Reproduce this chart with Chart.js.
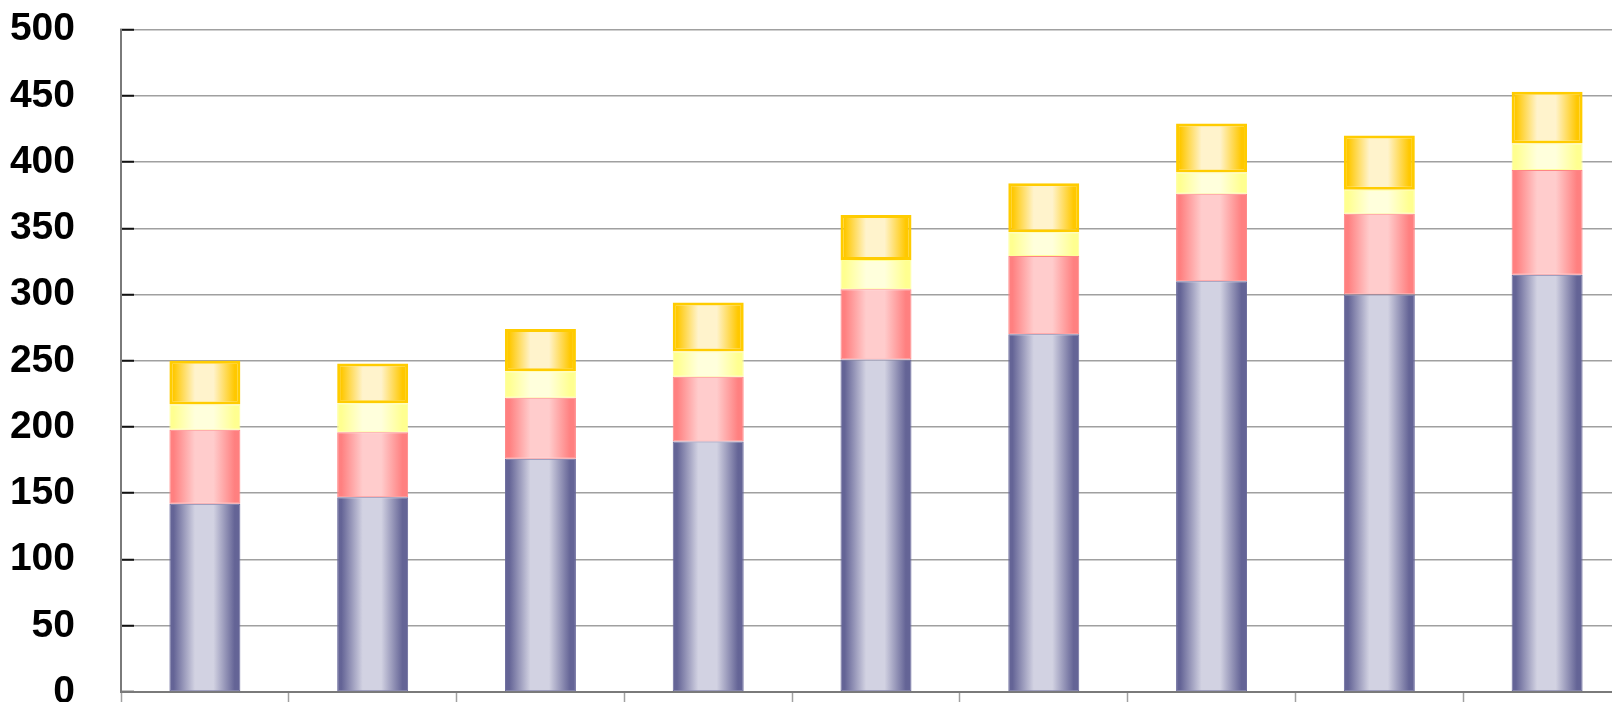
<!DOCTYPE html>
<html>
<head>
<meta charset="utf-8">
<script src="https://cdn.jsdelivr.net/npm/chart.js@4/dist/chart.umd.min.js"></script>
<style>
    body { margin: 0; overflow: hidden; background: #fff; }
    #wrap { position: absolute; left: 0; top: 0; width: 1631px; height: 720px; }
</style>
</head>
<body>
<div id="wrap"><canvas id="stack-chart"></canvas></div>
<script>
// data
const categories = ['1', '2', '3', '4', '5', '6', '7', '8', '9'];
const seriesBlue = [142, 147, 176, 189, 251, 270, 310, 300, 315];
const seriesRed = [56, 49, 46, 49, 53, 59, 66, 61, 79];
const seriesYellow = [19, 22, 20, 19, 22, 18, 16, 18, 20];
const seriesGold = [33, 30, 32, 37, 34, 37, 37, 41, 39];
const yTicks = [0, 50, 100, 150, 200, 250, 300, 350, 400, 450, 500];

const barShare = 0.423;

// horizontal "cylinder" shading for each bar
function cylinder(dark, light) {
    return (context) => {
        const chart = context.chart;
        const xScale = chart.scales.x;
        if (!chart.chartArea || !xScale || context.dataIndex === undefined) {
            return dark;
        }
        const cx = xScale.getPixelForValue(context.dataIndex);
        const half = xScale.width / categories.length * barShare / 2;
        const g = chart.ctx.createLinearGradient(cx - half, 0, cx + half, 0);
        g.addColorStop(0, dark);
        g.addColorStop(0.06, dark);
        g.addColorStop(0.36, light);
        g.addColorStop(0.62, light);
        g.addColorStop(0.92, dark);
        g.addColorStop(1, dark);
        return g;
    };
}

function makeDataset(label, data, dark, light, border, borderWidth) {
    return {
        label: label,
        data: data,
        backgroundColor: cylinder(dark, light),
        borderColor: border,
        borderWidth: borderWidth,
        borderSkipped: false,
        categoryPercentage: 1,
        barPercentage: barShare
    };
}

let ctx = document.getElementById('stack-chart').getContext('2d');

window.myChart = new Chart(ctx, {
    type: 'bar',
    data: {
        labels: categories,
        datasets: [
            makeDataset('Blue', seriesBlue, '#646496', '#d2d2e2', '#6a6a9c', 1),
            makeDataset('Red', seriesRed, '#ff8080', '#ffcccc', '#ff8585', 1),
            makeDataset('Yellow', seriesYellow, '#ffff90', '#ffffdc', '#ffff99', 1),
            makeDataset('Gold', seriesGold, '#ffc800', '#fff3cc', '#ffcc00', 3)
        ]
    },
    options: {
        responsive: true,
        maintainAspectRatio: false,
        animation: false,
        layout: {
            padding: {top: 29.5, left: 0, right: 0, bottom: 0}
        },
        plugins: {
            legend: {display: false},
            tooltip: {enabled: false}
        },
        scales: {
            x: {
                stacked: true,
                afterFit: (scale) => {
                    scale.height = 28;
                    scale.paddingLeft = 0;
                    scale.paddingRight = 0;
                },
                grid: {
                    offset: true,
                    drawOnChartArea: false,
                    drawTicks: true,
                    tickLength: 12,
                    tickColor: '#a0a0a0',
                    tickWidth: 1.5
                },
                border: {color: '#7a7a7a', width: 2},
                ticks: {display: false}
            },
            y: {
                stacked: true,
                min: 0,
                max: 500,
                afterFit: (scale) => {
                    scale.width = 121;
                    scale.paddingTop = 0;
                    scale.paddingBottom = 0;
                },
                afterBuildTicks: (scale) => {
                    scale.ticks = yTicks.map(v => ({value: v}));
                },
                grid: {
                    color: '#a0a0a0',
                    lineWidth: 1.5,
                    drawTicks: true,
                    tickLength: -13,
                    tickColor: '#111',
                    tickWidth: 2
                },
                border: {color: '#7a7a7a', width: 2},
                ticks: {
                    padding: 59,
                    color: '#000',
                    font: {family: '"Liberation Sans", Arial, sans-serif', size: 39, weight: 'bold'}
                }
            }
        }
    }
});
</script>
</body>
</html>
